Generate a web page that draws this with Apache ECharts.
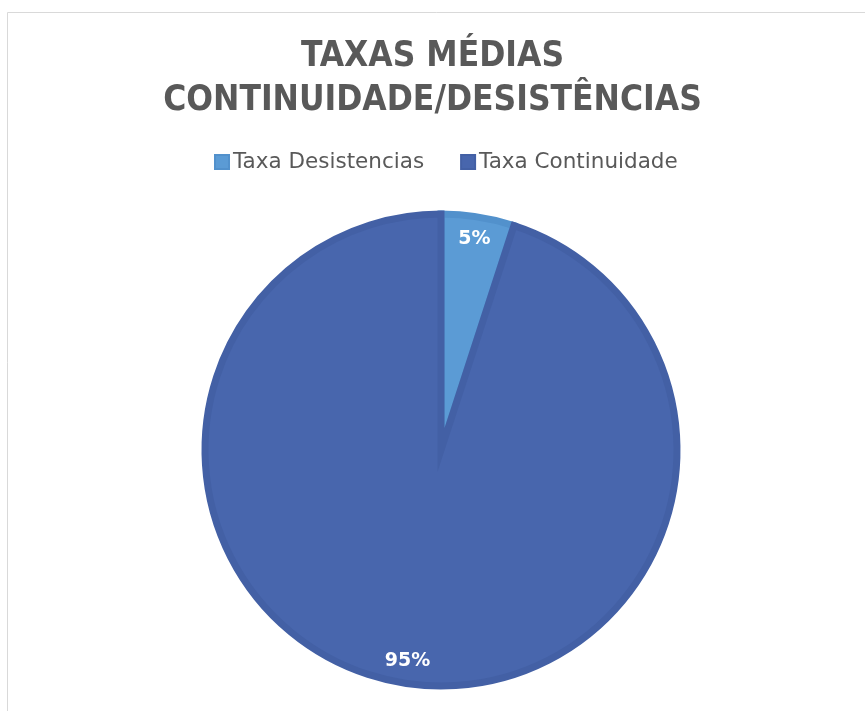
<!DOCTYPE html>
<html>
<head>
<meta charset="utf-8">
<script src="https://cdn.jsdelivr.net/npm/echarts@6/dist/echarts.min.js"></script>
<style>
  html, body { margin: 0; padding: 0; background: #ffffff; }
  #chart { width: 865px; height: 711px; }
</style>
</head>
<body>
<div id="chart"></div>
<script>
// Average continuation / dropout rates
const categories = ['Taxa Desistencias', 'Taxa Continuidade'];
const rates = [5, 95];
const fillColors = ['#5b9bd5', '#4866ad'];
const edgeColors = ['#5291cc', '#4360a5'];

const pieData = categories.map((name, i) => ({
  name: name,
  value: rates[i],
  itemStyle: { color: fillColors[i], borderColor: edgeColors[i] }
}));

const labelData = categories.map((name, i) => ({ name: name, value: rates[i] }));

const chart = echarts.init(document.getElementById('chart'));
chart.setOption({
  animation: false,
  backgroundColor: '#ffffff',
  title: {
    text: 'TAXAS MÉDIAS\nCONTINUIDADE/DESISTÊNCIAS',
    left: 'center',
    top: 30,
    textStyle: {
      fontFamily: 'DejaVu Sans Condensed',
      fontWeight: 'bold',
      fontSize: 35,
      lineHeight: 44,
      color: '#595959'
    }
  },
  legend: {
    data: categories,
    top: 146,
    left: 209,
    icon: 'rect',
    itemWidth: 14,
    itemHeight: 14,
    itemGap: 36,
    textStyle: {
      fontFamily: 'DejaVu Sans',
      fontSize: 21.5,
      color: '#595959',
      padding: [0, 0, 0, -1]
    }
  },
  graphic: [{
    type: 'rect',
    shape: { x: 7.5, y: 12.5, width: 900, height: 760 },
    style: { fill: 'none', stroke: '#d9d9d9', lineWidth: 1 },
    silent: true,
    z: -10
  }],
  series: [
    {
      type: 'pie',
      center: [441, 450],
      radius: [0, 236],
      startAngle: 90,
      clockwise: true,
      data: pieData,
      label: { show: false },
      labelLine: { show: false },
      itemStyle: { borderWidth: 7, borderJoin: 'miter', borderMiterLimit: 40 },
      emphasis: { disabled: true },
      silent: true
    },
    {
      type: 'pie',
      center: [441, 450],
      radius: [182, 239],
      startAngle: 90,
      clockwise: true,
      data: labelData,
      itemStyle: { color: 'rgba(0,0,0,0)' },
      label: {
        show: true,
        position: 'inside',
        formatter: '{c}%',
        color: '#ffffff',
        fontFamily: 'DejaVu Sans',
        fontWeight: 'bold',
        fontSize: 19
      },
      labelLine: { show: false },
      emphasis: { disabled: true },
      legendHoverLink: false,
      silent: true,
      z: 5
    }
  ]
});
</script>
</body>
</html>
